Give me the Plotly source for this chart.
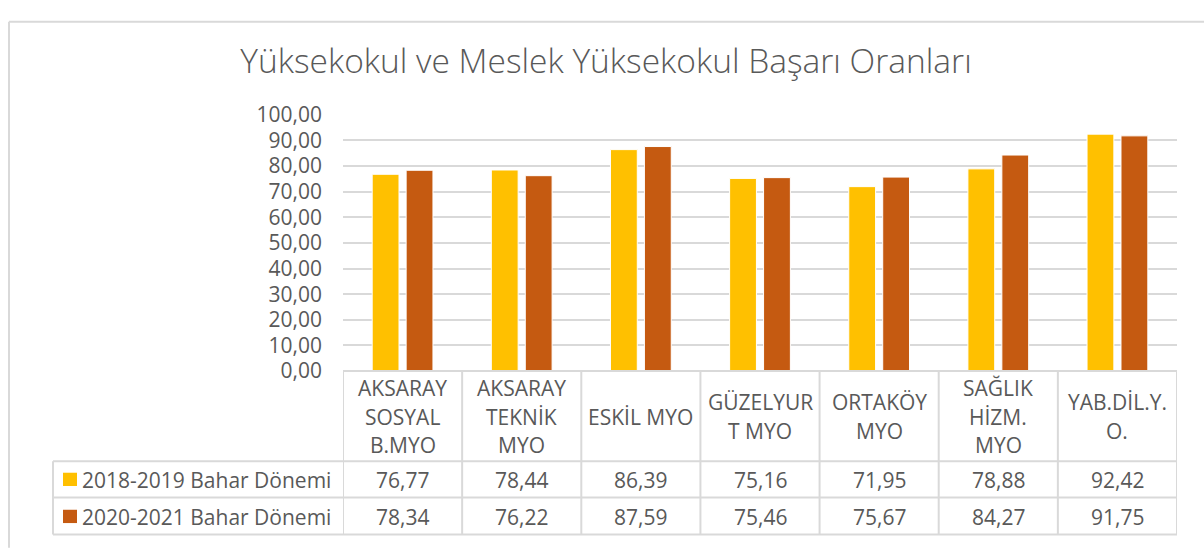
import plotly.graph_objects as go

# ---- data ----
categories = ["AKSARAY SOSYAL B.MYO", "AKSARAY TEKNİK MYO", "ESKİL MYO", "GÜZELYURT MYO",
              "ORTAKÖY MYO", "SAĞLIK HİZM. MYO", "YAB.DİL.Y.O."]
category_lines = [["AKSARAY", "SOSYAL", "B.MYO"], ["AKSARAY", "TEKNİK", "MYO"], ["ESKİL MYO"],
                  ["GÜZELYUR", "T MYO"], ["ORTAKÖY", "MYO"], ["SAĞLIK", "HİZM.", "MYO"], ["YAB.DİL.Y.", "O."]]
series_names = ["2018-2019 Bahar Dönemi", "2020-2021 Bahar Dönemi"]
values_2018_2019 = [76.77, 78.44, 86.39, 75.16, 71.95, 78.88, 92.42]
values_2020_2021 = [78.34, 76.22, 87.59, 75.46, 75.67, 84.27, 91.75]
series_values = [values_2018_2019, values_2020_2021]
series_colors = ["#FFC000", "#C55A11"]
y_ticks = [0, 10, 20, 30, 40, 50, 60, 70, 80, 90, 100]

W, H = 1204, 556
FONT = "Open Sans"
TXT = "#595959"
GRID = "#D9D9D9"
FS = 21


def px(x):
    return x / W


def py(y):
    return (H - y) / H


fig = go.Figure()
for name, vals, col in zip(series_names, series_values, series_colors):
    fig.add_trace(go.Bar(x=list(range(len(categories))), y=vals, name=name,
                         marker=dict(color=col, line=dict(color="white", width=1)),
                         hovertext=categories, showlegend=False))

shapes = []
annotations = []
plot_left, plot_right = 343, 1177
axis_y, row1, row2, row3 = 375, 470, 508, 547
table_left = 53
n = len(categories)

# outer chart frame
shapes.append(dict(type="line", xref="paper", yref="paper", x0=px(9), x1=px(9), y0=py(7), y1=py(H + 5),
                   line=dict(color=GRID, width=2)))
shapes.append(dict(type="line", xref="paper", yref="paper", x0=px(9), x1=px(W + 5), y0=py(7), y1=py(7),
                   line=dict(color=GRID, width=2)))
# table horizontal lines
shapes.append(dict(type="line", xref="paper", yref="paper", x0=px(plot_left), x1=px(plot_right),
                   y0=py(axis_y), y1=py(axis_y), line=dict(color=GRID, width=2)))
for yy in [row1, row2, row3]:
    shapes.append(dict(type="line", xref="paper", yref="paper", x0=px(table_left), x1=px(plot_right),
                       y0=py(yy), y1=py(yy), line=dict(color=GRID, width=2)))
shapes.append(dict(type="line", xref="paper", yref="paper", x0=px(table_left), x1=px(table_left),
                   y0=py(row1), y1=py(row3), line=dict(color=GRID, width=2)))
# column separators, tied to category positions
for i in range(n + 1):
    shapes.append(dict(type="line", xref="x", yref="paper", x0=i - 0.5, x1=i - 0.5,
                       y0=py(axis_y), y1=py(row3), line=dict(color=GRID, width=2)))

# header labels
line_gap = 30
for i, lines in enumerate(category_lines):
    k = len(lines)
    for j, t in enumerate(lines):
        yc = 423 + (j - (k - 1) / 2) * line_gap
        annotations.append(dict(x=i, xref="x", y=py(yc), yref="paper", text=t, showarrow=False,
                                font=dict(family=FONT, size=FS, color=TXT), xanchor="center", yanchor="middle"))

# value rows and legend keys
row_centers = [490, 529]
for r, (name, vals, col) in enumerate(zip(series_names, series_values, series_colors)):
    yc = row_centers[r]
    for i, v in enumerate(vals):
        annotations.append(dict(x=i, xref="x", y=py(yc), yref="paper", text=f"{v:.2f}".replace(".", ","),
                                showarrow=False, font=dict(family=FONT, size=FS, color=TXT),
                                xanchor="center", yanchor="middle"))
    shapes.append(dict(type="rect", xref="paper", yref="paper", x0=px(63), x1=px(77),
                       y0=py(yc - 8), y1=py(yc + 6), fillcolor=col, line=dict(width=0)))
    annotations.append(dict(x=px(80), xref="paper", y=py(yc), yref="paper", text=name, showarrow=False,
                            font=dict(family=FONT, size=FS, color=TXT), xanchor="left", yanchor="middle"))

fig.update_layout(
    width=W, height=H,
    margin=dict(l=0, r=0, t=0, b=0),
    paper_bgcolor="white", plot_bgcolor="white",
    separators=",.",
    barmode="group", bargap=0.43, bargroupgap=0.21,
    title=dict(text="Yüksekokul ve Meslek Yüksekokul Başarı Oranları", x=px(606), xanchor="center",
               y=py(61), yanchor="middle", font=dict(family=FONT, size=33.5, color=TXT, weight=300)),
    xaxis=dict(domain=[px(plot_left), px(plot_right)], range=[-0.5, n - 0.5], showticklabels=False,
               showgrid=False, zeroline=False, showline=False, fixedrange=True),
    yaxis=dict(domain=[py(axis_y), py(105)], range=[0, 100], tickvals=y_ticks, tickformat=".2f",
               showgrid=True, gridcolor=GRID, gridwidth=2, zeroline=False, showline=False,
               ticks="", ticklabelstandoff=20, tickfont=dict(family=FONT, size=FS, color=TXT)),
    shapes=shapes, annotations=annotations,
    font=dict(family=FONT, color=TXT),
)

# pin the figure to the top-left corner of the page (no default body margin / scrolling)
pin_js = ("document.body.style.margin='0';document.body.style.overflow='hidden';"
          "var d=document.getElementById('{plot_id}');d.style.position='fixed';"
          "d.style.left='0px';d.style.top='0px';")
fig.write_html("out.html", post_script=pin_js, config={"displayModeBar": False})
